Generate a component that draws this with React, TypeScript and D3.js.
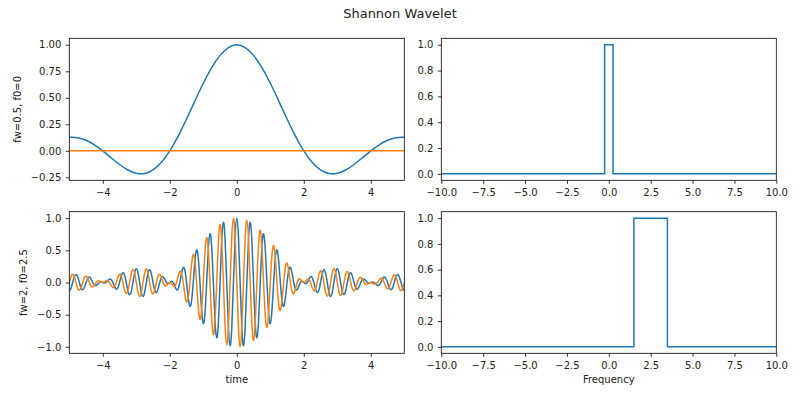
import { useEffect, useRef } from "react";
import * as d3 from "d3";

// sampling grids (time in s, frequency in Hz)
const timesTop = d3.range(-20, 21).map((k) => k * 0.25);
const timesBottom = d3.range(-100, 101).map((k) => k * 0.05);

// fw=0.5, f0=0 : real and imaginary part
const realTop = [
  0.127, 0.124, 0.1, 0.057, 0, -0.065, -0.129, -0.181, -0.212, -0.214,
  -0.18, -0.108, 0, 0.139, 0.3, 0.471, 0.637, 0.784, 0.9, 0.974,
  1,
  0.974, 0.9, 0.784, 0.637, 0.471, 0.3, 0.139, 0, -0.108, -0.18,
  -0.214, -0.212, -0.181, -0.129, -0.065, 0, 0.057, 0.1, 0.124, 0.127,
];
const imagTopTimes = [-5, 5];
const imagTop = [0, 0];

// fw=2, f0=2.5 : real and imaginary part
const realBottom = [
  -0.127, -0.091, 0, 0.091, 0.126, 0.088, 0, -0.083, -0.112, -0.075,
  0, 0.066, 0.085, 0.054, 0, -0.04, -0.047, -0.025, 0, 0.008,
  0, -0.009, 0, 0.028, 0.052, 0.046, 0, -0.064, -0.104, -0.082,
  0, 0.099, 0.151, 0.115, 0, -0.128, -0.189, -0.139, 0, 0.147,
  0.212, 0.152, 0, -0.153, -0.216, -0.151, 0, 0.145, 0.198, 0.134,
  0, -0.119, -0.156, -0.1, 0, 0.076, 0.089, 0.049, 0, -0.017,
  0, 0.018, 0, -0.057, -0.109, -0.098, 0, 0.143, 0.234, 0.189,
  0, -0.236, -0.368, -0.284, 0, 0.333, 0.505, 0.38, 0, -0.427,
  -0.637, -0.472, 0, 0.515, 0.757, 0.554, 0, -0.59, -0.858, -0.622,
  0, 0.65, 0.935, 0.672, 0, -0.689, -0.984, -0.701, 0, 0.706,
  1,
  0.706, 0, -0.701, -0.984, -0.689, 0, 0.672, 0.935, 0.65, 0,
  -0.622, -0.858, -0.59, 0, 0.554, 0.757, 0.515, 0, -0.472, -0.637,
  -0.427, 0, 0.38, 0.505, 0.333, 0, -0.284, -0.368, -0.236, 0,
  0.189, 0.234, 0.143, 0, -0.098, -0.109, -0.057, 0, 0.018, 0,
  -0.017, 0, 0.049, 0.089, 0.076, 0, -0.1, -0.156, -0.119, 0,
  0.134, 0.198, 0.145, 0, -0.151, -0.216, -0.153, 0, 0.152, 0.212,
  0.147, 0, -0.139, -0.189, -0.128, 0, 0.115, 0.151, 0.099, 0,
  -0.082, -0.104, -0.064, 0, 0.046, 0.052, 0.028, 0, -0.009, 0,
  0.008, 0, -0.025, -0.047, -0.04, 0, 0.054, 0.085, 0.066, 0,
  -0.075, -0.112, -0.083, 0, 0.088, 0.126, 0.091, 0, -0.091, -0.127,
];
const imagBottom = [
  0, 0.091, 0.128, 0.091, 0, -0.088, -0.121, -0.083, 0, 0.075,
  0.1, 0.066, 0, -0.054, -0.067, -0.04, 0, 0.025, 0.024, 0.008,
  0, 0.009, 0.026, 0.028, 0, -0.046, -0.078, -0.064, 0, 0.082,
  0.129, 0.099, 0, -0.115, -0.172, -0.128, 0, 0.139, 0.203, 0.147,
  0, -0.152, -0.217, -0.153, 0, 0.151, 0.21, 0.145, 0, -0.134,
  -0.18, -0.119, 0, 0.1, 0.126, 0.076, 0, -0.049, -0.047, -0.017,
  0, -0.018, -0.052, -0.057, 0, 0.098, 0.17, 0.143, 0, -0.189,
  -0.3, -0.236, 0, 0.284, 0.436, 0.333, 0, -0.38, -0.572, -0.427,
  0, 0.472, 0.699, 0.515, 0, -0.554, -0.81, -0.59, 0, 0.622,
  0.9, 0.65, 0, -0.672, -0.963, -0.689, 0, 0.701, 0.996, 0.706,
  0,
  -0.706, -0.996, -0.701, 0, 0.689, 0.963, 0.672, 0, -0.65, -0.9,
  -0.622, 0, 0.59, 0.81, 0.554, 0, -0.515, -0.699, -0.472, 0,
  0.427, 0.572, 0.38, 0, -0.333, -0.436, -0.284, 0, 0.236, 0.3,
  0.189, 0, -0.143, -0.17, -0.098, 0, 0.057, 0.052, 0.018, 0,
  0.017, 0.047, 0.049, 0, -0.076, -0.126, -0.1, 0, 0.119, 0.18,
  0.134, 0, -0.145, -0.21, -0.151, 0, 0.153, 0.217, 0.152, 0,
  -0.147, -0.203, -0.139, 0, 0.128, 0.172, 0.115, 0, -0.099, -0.129,
  -0.082, 0, 0.064, 0.078, 0.046, 0, -0.028, -0.026, -0.009, 0,
  -0.008, -0.024, -0.025, 0, 0.04, 0.067, 0.054, 0, -0.066, -0.1,
  -0.075, 0, 0.083, 0.121, 0.088, 0, -0.091, -0.128, -0.091, 0,
];

// spectra (step edges)
const freqEdgesTop = [-10, -0.25, 0.25, 10];
const spectrumTop = [0, 1, 0, 0];
const freqEdgesBottom = [-10, 1.5, 3.5, 10];
const spectrumBottom = [0, 1, 0, 0];

// ticks
const timeTicks = [-4, -2, 0, 2, 4];
const freqTicks = [-10, -7.5, -5, -2.5, 0, 2.5, 5, 7.5, 10];
const ampTicksTop = [-0.25, 0, 0.25, 0.5, 0.75, 1];
const ampTicksBottom = [-1, -0.5, 0, 0.5, 1];
const specTicks = [0, 0.2, 0.4, 0.6, 0.8, 1];

const BLUE = "#1f77b4";
const ORANGE = "#ff7f0e";
const FONT = "DejaVu Sans, sans-serif";

interface Series {
  x: number[];
  y: number[];
  color: string;
  curve: d3.CurveFactory;
}

interface Panel {
  id: string;
  left: number;
  right: number;
  top: number;
  bottom: number;
  xDomain: [number, number];
  yDomain: [number, number];
  xTicks: number[];
  yTicks: number[];
  xFmt: string;
  yFmt: string;
  series: Series[];
  xLabel?: string;
  yLabel?: string;
  yLabelX?: number;
}

const drawPanel = (svg: d3.Selection<SVGSVGElement, unknown, null, undefined>, p: Panel) => {
  const x = d3.scaleLinear().domain(p.xDomain).range([p.left, p.right]);
  const y = d3.scaleLinear().domain(p.yDomain).range([p.bottom, p.top]);

  svg
    .append("clipPath")
    .attr("id", p.id)
    .append("rect")
    .attr("x", p.left)
    .attr("y", p.top)
    .attr("width", p.right - p.left)
    .attr("height", p.bottom - p.top);

  const plot = svg.append("g").attr("clip-path", `url(#${p.id})`);
  p.series.forEach((s) => {
    const line = d3
      .line<[number, number]>()
      .x((d) => x(d[0]))
      .y((d) => y(d[1]))
      .curve(s.curve);
    plot
      .append("path")
      .datum(d3.zip(s.x, s.y) as [number, number][])
      .attr("fill", "none")
      .attr("stroke", s.color)
      .attr("stroke-width", 1.5)
      .attr("d", line);
  });

  const xAxis = svg
    .append("g")
    .attr("transform", `translate(0,${p.bottom})`)
    .call(
      d3
        .axisBottom(x)
        .tickValues(p.xTicks)
        .tickFormat(d3.format(p.xFmt) as any)
        .tickSize(3.5)
        .tickPadding(5.5)
    );
  const yAxis = svg
    .append("g")
    .attr("transform", `translate(${p.left},0)`)
    .call(
      d3
        .axisLeft(y)
        .tickValues(p.yTicks)
        .tickFormat(d3.format(p.yFmt) as any)
        .tickSize(3.5)
        .tickPadding(4.5)
    );
  [xAxis, yAxis].forEach((a) => {
    a.select(".domain").remove();
    a.attr("font-family", FONT).attr("font-size", 10);
    a.selectAll("line").attr("stroke", "#000").attr("stroke-width", 0.8);
    a.selectAll("text").attr("fill", "#222");
  });

  svg
    .append("rect")
    .attr("x", p.left)
    .attr("y", p.top)
    .attr("width", p.right - p.left)
    .attr("height", p.bottom - p.top)
    .attr("fill", "none")
    .attr("stroke", "#000")
    .attr("stroke-width", 0.8);

  if (p.xLabel) {
    svg
      .append("text")
      .attr("x", (p.left + p.right) / 2)
      .attr("y", 383)
      .attr("text-anchor", "middle")
      .attr("font-family", FONT)
      .attr("font-size", 10)
      .attr("fill", "#222")
      .text(p.xLabel);
  }
  if (p.yLabel) {
    svg
      .append("text")
      .attr("transform", `translate(${p.yLabelX},${(p.top + p.bottom) / 2}) rotate(-90)`)
      .attr("dy", "0.35em")
      .attr("text-anchor", "middle")
      .attr("font-family", FONT)
      .attr("font-size", 10)
      .attr("fill", "#222")
      .text(p.yLabel);
  }
};

const App = () => {
  const svgRef = useRef<SVGSVGElement | null>(null);

  useEffect(() => {
    const svg = d3.select(svgRef.current as SVGSVGElement);
    svg.selectAll("*").remove();

    const L = [69.3, 404.3];
    const R = [441.3, 776.3];
    const T = [38.3, 180.3];
    const B = [211.7, 353.3];

    drawPanel(svg, {
      id: "c1",
      left: L[0], right: L[1], top: T[0], bottom: T[1],
      xDomain: [-5, 5], yDomain: [-0.278, 1.061],
      xTicks: timeTicks, yTicks: ampTicksTop, xFmt: "d", yFmt: ".2f",
      series: [
        { x: timesTop, y: realTop, color: BLUE, curve: d3.curveNatural },
        { x: imagTopTimes, y: imagTop, color: ORANGE, curve: d3.curveLinear },
      ],
      yLabel: "fw=0.5, f0=0", yLabelX: 17.3,
    });
    drawPanel(svg, {
      id: "c2",
      left: R[0], right: R[1], top: T[0], bottom: T[1],
      xDomain: [-10, 10], yDomain: [-0.05, 1.05],
      xTicks: freqTicks, yTicks: specTicks, xFmt: ".1f", yFmt: ".1f",
      series: [{ x: freqEdgesTop, y: spectrumTop, color: BLUE, curve: d3.curveStepAfter }],
    });
    drawPanel(svg, {
      id: "c3",
      left: L[0], right: L[1], top: B[0], bottom: B[1],
      xDomain: [-5, 5], yDomain: [-1.1, 1.1],
      xTicks: timeTicks, yTicks: ampTicksBottom, xFmt: "d", yFmt: ".1f",
      series: [
        { x: timesBottom, y: realBottom, color: BLUE, curve: d3.curveNatural },
        { x: timesBottom, y: imagBottom, color: ORANGE, curve: d3.curveNatural },
      ],
      xLabel: "time",
      yLabel: "fw=2, f0=2.5", yLabelX: 23.3,
    });
    drawPanel(svg, {
      id: "c4",
      left: R[0], right: R[1], top: B[0], bottom: B[1],
      xDomain: [-10, 10], yDomain: [-0.05, 1.05],
      xTicks: freqTicks, yTicks: specTicks, xFmt: ".1f", yFmt: ".1f",
      series: [{ x: freqEdgesBottom, y: spectrumBottom, color: BLUE, curve: d3.curveStepAfter }],
      xLabel: "Frequency",
    });

    svg
      .append("text")
      .attr("x", 400)
      .attr("y", 18)
      .attr("text-anchor", "middle")
      .attr("font-family", FONT)
      .attr("font-size", 13)
      .attr("fill", "#222")
      .text("Shannon Wavelet");
  }, []);

  return (
    <svg
      ref={svgRef}
      width={800}
      height={400}
      style={{ position: "absolute", left: 0, top: 0, background: "#fff" }}
    ></svg>
  );
};

export default App;
